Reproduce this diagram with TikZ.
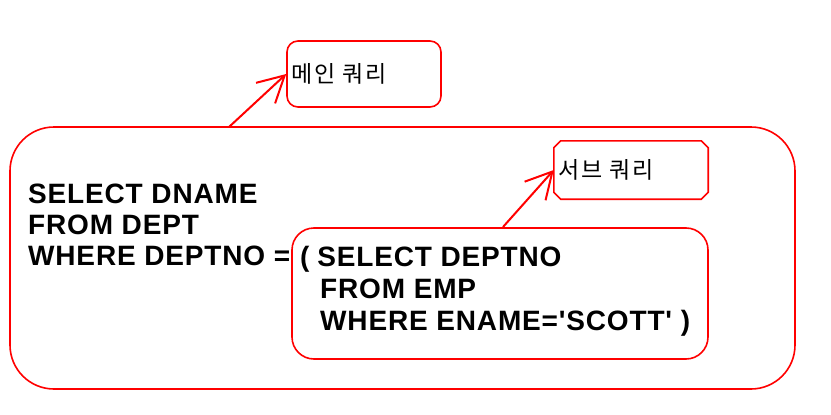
\documentclass[tikz,border=0pt]{standalone}
\usepackage{fontspec}
\setmainfont{Liberation Sans}[Ligatures=TeXOff]
\newfontfamily\kofont{Noto Sans CJK KR}
\usetikzlibrary{arrows.meta,calc}
\definecolor{lnred}{RGB}{255,0,0}
\tikzset{
  sqltext/.style={anchor=base west, inner sep=0pt, font=\fontsize{28}{30}\selectfont\bfseries\addfontfeature{LetterSpace=3}},
  kotext/.style={anchor=west, inner sep=0pt, font=\kofont\fontsize{23}{25}\selectfont\addfontfeature{LetterSpace=8}},
  redbox/.style={draw=lnred, line width=1.6pt, inner sep=0pt, rectangle},
  redline/.style={draw=lnred, line width=1.6pt},
  pointer/.style={draw=lnred, line width=2pt, -{Straight Barb[length=26pt,width=28pt,line width=2pt]}}
}
\begin{document}
\begin{tikzpicture}[x=1pt,y=-1pt]
\useasboundingbox (0,0) rectangle (831,415);
% boxes
\node[redbox, rounded corners=44pt, minimum width=785pt, minimum height=262pt] (outer) at (402.5,258) {};
\node[redbox, rounded corners=22pt, minimum width=416pt, minimum height=131pt] (inner) at (500,293.5) {};
\node[redbox, rounded corners=11pt, minimum width=154pt, minimum height=66pt] (mainbox) at (364,74) {};
\node[inner sep=0pt, minimum width=154pt, minimum height=58pt] (subbox) at (631,170) {};
\draw[redline] ($(subbox.north west)+(7,0)$) -- ($(subbox.north east)+(-7,0)$) -- ($(subbox.north east)+(0,7)$)
  -- ($(subbox.south east)+(0,-7)$) -- ($(subbox.south east)+(-7,0)$) -- ($(subbox.south west)+(7,0)$)
  -- ($(subbox.south west)+(0,-7)$) -- ($(subbox.north west)+(0,7)$) -- cycle;
% labels
\node[kotext] (mainlbl) at (291,74) {메인 쿼리};
\node[kotext] (sublbl) at (558,170) {서브 쿼리};
% outer query text
\node[sqltext] (l1) at (28,203) {SELECT DNAME};
\node[sqltext] (l2) at (28,234) {FROM DEPT};
\node[sqltext] (l3) at (28,265) {WHERE DEPTNO =};
% inner query text
\node[sqltext] (s1) at (300,266) {(\hspace{0.28em}SELECT DEPTNO};
\node[sqltext] (s2) at (320,298) {FROM EMP};
\node[sqltext] (s3) at (320,330) {WHERE ENAME='SCOTT' )};
% connectors
\coordinate (a1) at (229,127);
\coordinate (a2) at (503,227);
\draw[pointer] (a1) -- (mainbox.west);
\draw[pointer] (a2) -- (subbox.west);
\end{tikzpicture}
\end{document}
